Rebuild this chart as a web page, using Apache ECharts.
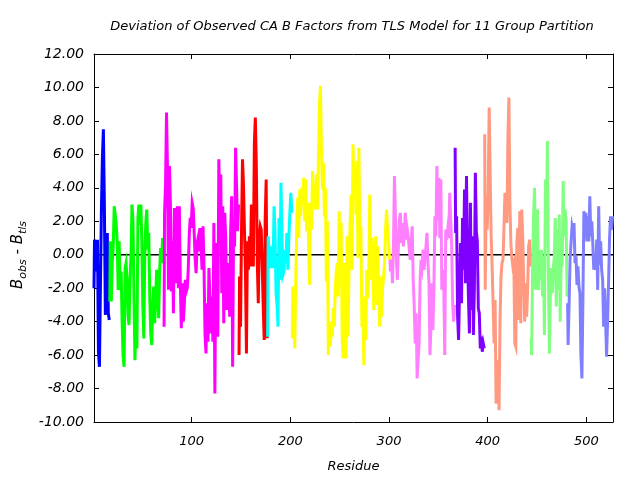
<!DOCTYPE html>
<html>
<head>
<meta charset="utf-8">
<script src="https://cdn.jsdelivr.net/npm/echarts@6/dist/echarts.min.js"></script>
<style>html,body{margin:0;padding:0;background:#fff}#c{width:640px;height:480px}</style>
</head>
<body>
<div id="c"></div>
<script>
const xTicks = [100, 200, 300, 400, 500];
const groupNames = ['G1','G2','G3','G4','G5','G6','G7','G8','G9','G10','G11'];
const groupStarts = [1, 17, 72, 148, 177, 202, 301, 367, 397, 444, 481];
const groupColors = ['#0000ff','#00ff00','#ff00ff','#ff0000','#00ffff','#ffff00','#ff80ff','#8000ff','#ff9980','#80ff80','#8080ff'];

const g1 = [-2.0, 0.9, 0.9, -1.0, 0.9, -5.8, -6.7, -2.0, 2.6, 5.8, 7.5, 3.1, -3.6, -1.0, 1.3, -3.5, -3.9];
const g2 = [-2.8, 0.8, -2.8, -0.5, 0.5, 2.9, 2.4, 1.8, 0.8, -2.1, 0.8, -2.1, -1.0, -4.0, -6.1, -6.7, -0.8, -0.5, -1.5, -3.6, -4.2, -1.5, 0.0, 3.0, 2.0, -2.5, -6.3, -4.0, -5.6, 2.2, 3.0, 1.8, 3.0, 0.7, -3.1, -5.0, 0.3, 1.9, 2.7, 0.3, 1.3, -2.5, -4.7, -5.4, -3.0, -1.9, -4.1, -2.5, -0.9, -2.2, -3.8, -1.0, 0.4, -0.5, 1.0, 0.6];
const g3 = [-4.3, 2.5, 4.2, 8.5, 5.0, -2.1, 5.3, 2.9, -2.2, 0.8, -3.5, 2.8, 0.5, -1.7, 2.9, -2.0, 2.9,
  -1.7, -4.4, -1.7, -4.0, -3.0, -1.5, -2.2, -2.0, -0.9, 1.1, 2.2, 1.6, 3.1, 2.8, 1.4, -0.2, -1.1, 0.7, 1.0, 0.2, 1.6, 0.5, -0.9, 1.7, -0.8, -4.7, -5.9, -2.9, -5.2, -0.8, -0.8, -4.7, -2.5, -5.2, 1.9, -8.3, -0.3, 0.7, -4.9, 5.7, 2.7, 4.8, -2.3, 2.9, -4.1, 2.5, 1.0, -3.3, -0.5, -1.5, -3.7, 1.4, 3.5, -6.7, 1.9, 0.5, 6.4, 4.1, 1.4, 3.0];
const g4 = [-6.0, -1.3, -4.3, 1.4, 5.7, 4.2, 1.4, -1.0, -5.9, 0.8, -0.9, 1.1, -0.7, 3.0, 3.0, -0.7, 6.6, 8.2, 5.4, -0.5, -2.9, 1.1, 1.7, 1.5, -0.7, -3.1, -5.1, 2.1, 4.5, -5.0];
const g5 = [-4.9, 1.1, 1.1, -0.8, 0.5, 0.0, -0.8, 2.9, 1.3, -2.3, -3.0, -4.3, 2.2, -1.5, 4.3, 1.2, -1.2, -1.0, 0.3, -0.5, 1.3, -0.9, 1.0, 2.5, 3.7, 2.5];
const g6 = [-5.0, -1.9, -4.0, -5.6, -1.5, 1.8, 3.4, 1.0, 3.9, 2.3, 4.0, 3.0, 4.6, 2.0, 4.5, 1.4, 3.1, 0.5, -1.8, 3.1, 1.5, 5.0, 3.5, 4.1, 2.7, 4.8, 2.7, 5.9, 9.0, 10.1, 6.3, 3.9, 5.5, 2.3, 4.0, -1.6, 2.0, -6.0, -4.0, -5.5, -4.3, -4.9, -3.2, -4.3, -2.1, -1.0, -0.5, -2.5, 2.6, -1.9, 1.9, -4.9, -6.2, -0.5, -4.0, -6.2, 1.1, -4.9, -0.7, 1.7, 3.6, -0.9, 6.6, 3.9, 5.2, 2.4, 5.6, -0.2, 6.4, 0.9, 1.7, -4.3, -3.0, -6.6, -2.5, -5.1, -0.9, -2.6, -1.0, 3.6, -1.5, 1.0, 0.5, -3.3, -1.0, 1.1, -3.0, 0.5, -2.0, -4.3, -1.3, -3.7, -2.0, -1.3, -0.5, 1.5, 2.7, 1.5, 0.8, -0.3];
const g7 = [-0.3, -1.0, -0.3, -1.7, 0.5, 4.7, 2.3, -0.3, -1.5, 0.5, 2.1, 2.5, 0.7, 1.9, 0.5, 1.2, 2.5, 0.9, 1.5, 1.1, 0.3, -0.3, 0.7, 1.7, -1.5, -3.0, -5.3, -3.5, -7.4, -6.3, -5.3, -1.5, -0.3, -0.7, 0.3, -0.9, -0.8, 0.5, 1.3, -0.5, -1.7, -6.0, -4.3, -1.7, -4.5, -2.0, 2.3, 1.1, 5.3, 2.1, 4.6, 1.0, 4.5, -2.1, -0.9, -1.9, -6.0, 1.5, 0.9, 1.5, 1.0, 3.7, 3.7, 0.5, -2.9, -4.0, -3.0];
const g8 = [6.4, 1.3, 2.3, -3.7, -5.1, -2.1, 0.7, -2.9, 2.2, -0.9, 3.9, -1.7, 4.7, 0.3, -2.6, -4.7, 3.1, -3.3, 1.1, -4.8, -2.0, 4.9, 1.4, 0.8, -3.2, -3.5, -5.6, -4.9, -5.8, -5.3, -5.6];
const g9 = [7.2, -2.1, 3.5, 1.5, 3.7, 8.8, 8.8, 1.1, -0.7, -3.0, -5.3, -2.7, -8.9, -8.2, -6.3, -9.3, -4.0, -1.3, -0.5, -0.3, 1.6, 3.7, 3.7, 1.9, 7.0, 9.4, 3.1, 0.7, -0.2, -0.7, -0.5, -5.3, -5.5, 0.7, 1.6, -3.9, 2.6, -4.1, 2.7, 1.1, -1.5, -4.0, -1.7, -3.7, -2.0, 0.5, 0.9, -0.7];
const g10 = [-5.0, -6.0, -0.9, 2.3, 4.0, -2.1, 1.0, 2.7, -2.1, 0.3, -1.5, 0.3, -2.5, -0.1, -4.8, 4.5, 1.1, 6.8, -0.7, -5.9, -2.5, -0.8, -2.3, -0.9, -0.1, 2.2, -3.1, 1.5, -2.1, 2.4, -4.0, -0.1, -0.7, 4.4, 1.1, 2.7, 1.9, -2.5];
const g11 = [-2.9, -5.4, -3.0, -0.3, 0.7, 1.7, 1.4, 1.9, -0.5, -0.1, -1.8, -0.7, -1.9, -2.3, -6.0, -7.4, -2.7, 2.6, 1.9, 2.5, 0.8, 2.3, 0.8, 3.5, 1.1, 2.0, 0.7, -0.9, -0.1, -0.9, 0.9, -2.1, 2.9, -0.6, 0.8, -0.9, -1.5, -4.3, -2.0, -3.9, -6.1, -4.0, -1.7, 1.0, 2.3, 1.5, 2.3];
const groupValues = [g1, g2, g3, g4, g5, g6, g7, g8, g9, g10, g11];

const X_MIN = 1, X_MAX = 527, Y_MIN = -10, Y_MAX = 12, Y_STEP = 2;
const FONT = 'DejaVu Sans';

const chart = echarts.init(document.getElementById('c'), null, {renderer: 'canvas'});

const series = [{
  type: 'line', name: 'zero', data: [[X_MIN, 0], [X_MAX, 0]], symbol: 'none', silent: true,
  lineStyle: {color: '#000', width: 1.5}, z: 1
}];
groupValues.forEach((vals, gi) => {
  series.push({
    type: 'line', name: groupNames[gi], step: 'middle', symbol: 'none', silent: true,
    data: vals.map((v, i) => [groupStarts[gi] + i, v]),
    lineStyle: {color: groupColors[gi], width: 3, join: 'miter', cap: 'butt'},
    z: 2
  });
});

const axisCommon = {
  axisLine: {show: true, onZero: false, lineStyle: {color: '#000', width: 1}},
  splitLine: {show: false}
};

chart.setOption({
  animation: false,
  backgroundColor: '#fff',
  grid: {left: 94, right: 27, top: 54, bottom: 58, containLabel: false},
  xAxis: [
    Object.assign({
      type: 'value', min: X_MIN, max: X_MAX, position: 'bottom',
      axisTick: {show: true, inside: true, length: 5, customValues: xTicks, lineStyle: {color: '#000'}},
      axisLabel: {show: true, customValues: xTicks, margin: 13, fontFamily: FONT, fontStyle: 'italic', fontSize: 13, color: '#000'},
      name: 'Residue', nameLocation: 'middle', nameGap: 38,
      nameTextStyle: {fontFamily: FONT, fontStyle: 'italic', fontSize: 13, color: '#000'}
    }, axisCommon),
    Object.assign({
      type: 'value', min: X_MIN, max: X_MAX, position: 'top',
      axisTick: {show: true, inside: true, length: 5, customValues: xTicks, lineStyle: {color: '#000'}},
      axisLabel: {show: false}
    }, axisCommon)
  ],
  yAxis: [
    Object.assign({
      type: 'value', min: Y_MIN, max: Y_MAX, interval: Y_STEP, position: 'left',
      axisTick: {show: true, inside: true, length: 5, lineStyle: {color: '#000'}},
      axisLabel: {margin: 10, fontFamily: FONT, fontStyle: 'italic', fontSize: 14, color: '#000',
        formatter: v => v.toFixed(2)}
    }, axisCommon),
    Object.assign({
      type: 'value', min: Y_MIN, max: Y_MAX, interval: Y_STEP, position: 'right',
      axisTick: {show: true, inside: true, length: 5, lineStyle: {color: '#000'}},
      axisLabel: {show: false}
    }, axisCommon)
  ],
  graphic: [
    {type: 'text', x: 352, y: 27, style: {
      text: 'Deviation of Observed CA B Factors from TLS Model for 11 Group Partition',
      font: 'italic 13px "DejaVu Sans"', fill: '#000', align: 'center', verticalAlign: 'middle'}},
    {type: 'text', x: 18, y: 255, rotation: Math.PI / 2, style: {
      text: '{b|B}{s|obs}{b| - }{b|B}{s|tls}',
      align: 'center', verticalAlign: 'middle',
      rich: {
        b: {fontFamily: FONT, fontStyle: 'italic', fontSize: 15, fill: '#000', lineHeight: 22, verticalAlign: 'middle'},
        s: {fontFamily: FONT, fontStyle: 'italic', fontSize: 11, fill: '#000', lineHeight: 22, verticalAlign: 'bottom', padding: [8, 0, 0, 0]}
      }}}
  ],
  series: series
});
</script>
</body>
</html>
